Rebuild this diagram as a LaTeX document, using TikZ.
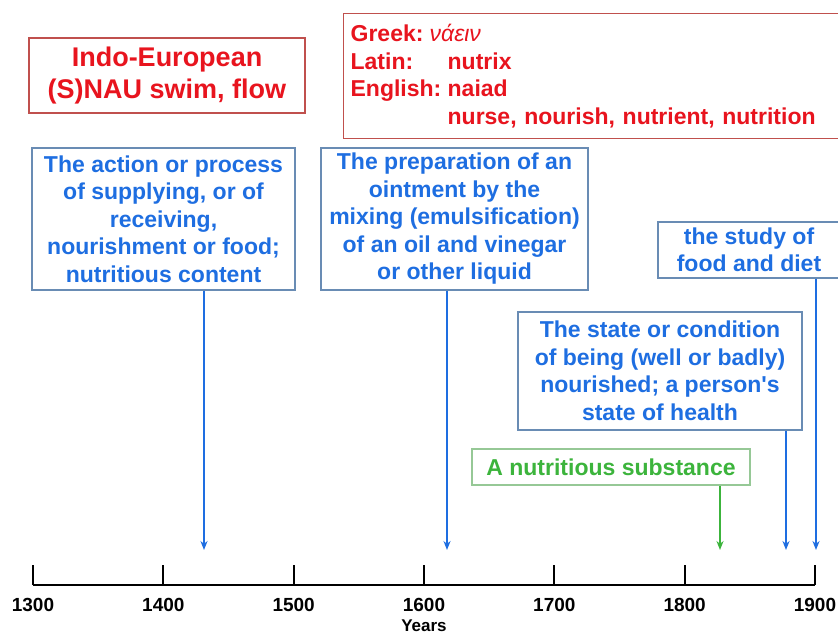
\documentclass[tikz,border=0pt]{standalone}
\usepackage{fontspec}
\setmainfont{Liberation Sans}
\usetikzlibrary{arrows.meta}

\begin{document}
\begin{tikzpicture}[x=1pt, y=-1pt,
  box/.style={rectangle, line width=1.3pt, fill=white, inner sep=0pt, align=center, font=\bfseries\fontsize{23}{27.5}\selectfont},
  redbox/.style={box, draw=my_redframe, text=my_red},
  bluebox/.style={box, draw=my_blueframe, text=my_blue},
  greenbox/.style={box, draw=my_greenframe, text=my_green},
  pointer/.style={line width=1.9pt, -{Stealth[length=9pt, width=7pt]}},
  yeartick/.style={line width=1.8pt},
  yearlabel/.style={font=\bfseries\fontsize{19}{19}\selectfont}]
\definecolor{my_red}{RGB}{232,20,30}
\definecolor{my_redframe}{RGB}{192,80,77}
\definecolor{my_blue}{RGB}{30,110,225}
\definecolor{my_blueframe}{RGB}{105,140,180}
\definecolor{my_green}{RGB}{60,180,60}
\definecolor{my_greenframe}{RGB}{150,200,150}
\useasboundingbox[fill=white] (0,0) rectangle (838,635);
% etymology
\node[redbox, minimum width=276pt, minimum height=75pt, font=\bfseries\fontsize{27}{32}\selectfont] (root) at (167,75.5) {Indo-European\\(S)NAU swim, flow};
\node[redbox, anchor=north west, minimum height=125pt, text width=506pt, inner xsep=7pt, align=left] (forms) at (343,13) {%
\makebox[79pt][l]{Greek:}{\mdseries\itshape νάειν}\\
\makebox[97pt][l]{Latin:}nutrix\\
\makebox[97pt][l]{English:}naiad\\
\hspace*{97pt}nurse, nourish, nutrient, nutrition};
% senses
\node[bluebox, minimum width=263pt, minimum height=142pt] (action) at (163.5,219) {The action or process\\of supplying, or of\\receiving,\\nourishment or food;\\nutritious content};
\node[bluebox, minimum width=267pt, minimum height=142pt] (ointment) at (454.5,219) {The preparation of an\\ointment by the\\mixing (emulsification)\\of an oil and vinegar\\or other liquid};
\node[bluebox, minimum width=182pt, minimum height=56pt] (study) at (749,250) {the study of\\food and diet};
\node[bluebox, minimum width=284pt, minimum height=118pt] (state) at (660,371) {The state or condition\\of being (well or badly)\\nourished; a person\textquotesingle s\\state of health};
\node[greenbox, minimum width=278pt, minimum height=36pt] (substance) at (611,467) {A nutritious substance};
% time line
\draw[line width=2.4pt] (33,585) -- (815,585);
\foreach \yr [count=\i from 0] in {1300,1400,...,1900} {
  \coordinate (tick\yr) at (33+130.33*\i,585);
  \draw[yeartick] (tick\yr) -- ++(0,-20);
  \node[yearlabel] (lab\yr) at (33+130.33*\i,605) {\yr};
}
\node[font=\bfseries\fontsize{17}{17}\selectfont] (years) at (424,626) {Years};
% dates
\coordinate (d1431) at (204,550);
\coordinate (d1618) at (447,550);
\coordinate (d1827) at (720,550);
\coordinate (d1878) at (786,550);
\coordinate (d1901) at (816,550);
\draw[pointer, my_blue] (action.south -| d1431) -- (d1431);
\draw[pointer, my_blue] (ointment.south -| d1618) -- (d1618);
\draw[pointer, my_green] (substance.south -| d1827) -- (d1827);
\draw[pointer, my_blue] (state.south -| d1878) -- (d1878);
\draw[pointer, my_blue] (study.south -| d1901) -- (d1901);
\end{tikzpicture}
\end{document}
